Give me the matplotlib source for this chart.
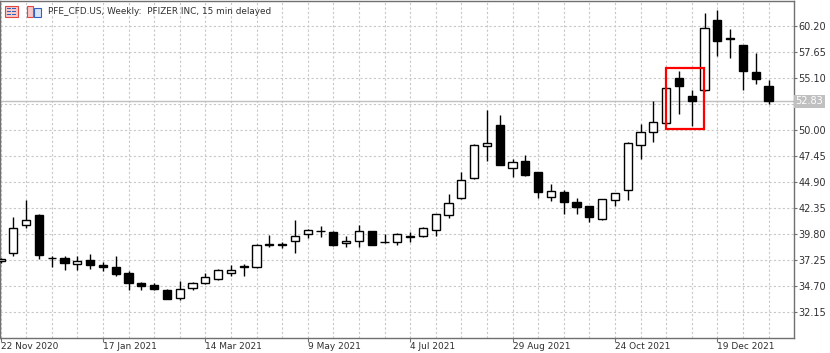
import matplotlib
matplotlib.use("Agg")
import matplotlib.pyplot as plt
from matplotlib.patches import Rectangle
from matplotlib.ticker import FixedLocator, MultipleLocator
import pandas as pd

# weekly PFE candles, starting 22 Nov 2020
week_start = "2020-11-22"
opens = [37.07, 37.92, 40.68, 41.66, 37.42, 37.43, 36.84, 37.23, 36.77, 36.54,
         35.95, 34.97, 34.77, 34.28, 33.49, 34.47, 34.97, 35.36, 35.92, 36.55,
         36.51, 38.72, 38.72, 39.04, 39.79, 40.03, 40.01, 38.86, 39.09, 40.05,
         38.95, 38.96, 39.51, 39.62, 40.18, 41.59, 43.33, 45.26, 48.38, 50.49,
         46.29, 46.95, 45.83, 43.40, 43.93, 42.91, 42.48, 41.27, 43.07, 44.13,
         48.56, 49.80, 50.68, 55.05, 53.37, 53.90, 60.79, 58.89, 58.33, 55.64,
         54.33]
highs = [37.40, 41.43, 43.07, 41.70, 37.56, 37.56, 37.56, 37.79, 37.00, 37.62,
         36.18, 35.10, 34.93, 34.32, 35.12, 35.10, 35.95, 36.30, 36.74, 36.84,
         38.77, 39.69, 38.97, 41.10, 40.28, 40.54, 40.05, 39.55, 40.70, 40.11,
         39.72, 39.85, 39.95, 40.44, 41.75, 43.72, 45.82, 48.58, 51.93, 51.44,
         47.18, 47.57, 45.85, 44.72, 44.06, 43.34, 42.50, 43.24, 43.83, 48.82,
         50.59, 52.85, 54.10, 55.77, 53.90, 61.45, 61.78, 59.87, 58.35, 57.51,
         54.88]
lows = [36.95, 37.59, 40.38, 37.33, 36.57, 36.28, 36.28, 36.34, 36.11, 35.62,
        34.28, 34.28, 34.31, 33.35, 33.29, 34.28, 34.90, 35.26, 35.69, 35.69,
        36.41, 38.53, 38.43, 37.92, 39.36, 39.46, 38.57, 38.47, 38.47, 38.70,
        38.93, 38.73, 38.99, 39.45, 39.62, 41.36, 43.23, 45.20, 46.95, 46.52,
        45.37, 45.50, 43.34, 42.98, 41.70, 41.70, 40.91, 41.17, 42.52, 43.07,
        47.11, 48.81, 50.60, 51.54, 50.39, 53.85, 57.25, 57.08, 53.96, 54.52,
        52.52]
closes = [37.33, 40.38, 41.10, 37.66, 37.38, 36.90, 37.13, 36.74, 36.57, 35.85,
          34.93, 34.70, 34.37, 33.39, 34.37, 34.93, 35.59, 36.28, 36.28, 36.60,
          38.70, 38.74, 38.74, 39.59, 40.12, 40.05, 38.70, 39.09, 40.11, 38.73,
          38.97, 39.75, 39.53, 40.37, 41.72, 42.80, 45.10, 48.51, 48.74, 46.59,
          46.85, 45.54, 43.90, 43.96, 42.88, 42.39, 41.43, 43.17, 43.80, 48.72,
          49.77, 50.78, 54.07, 54.33, 52.82, 59.97, 58.72, 59.05, 55.77, 54.98,
          52.83]
last_price = 52.83
price_ticks = [32.15, 34.70, 37.25, 39.80, 42.35, 44.90, 47.45, 50.00, 52.55,
               55.10, 57.65, 60.20]
title = "PFE_CFD.US, Weekly:  PFIZER INC, 15 min delayed"

weeks = pd.date_range(week_start, periods=len(opens), freq="7D")
date_ticks = list(range(0, len(weeks), 8))
date_labels = [f"{weeks[i].day} {weeks[i].strftime('%b %Y')}" for i in date_ticks]

W, H = 830, 353
fig = plt.figure(figsize=(W / 100, H / 100), dpi=100)
ax = fig.add_axes([0, 15 / H, 794 / W, 337 / H])

frame = "#707070"
txt = "#303030"
grid_c = "#c8c8c8"

# candles
x = list(range(len(opens)))
ax.vlines(x, lows, highs, color="black", lw=1, zorder=3)
for i in x:
    o, c = opens[i], closes[i]
    up = c >= o
    ax.bar(i, abs(c - o), bottom=min(o, c), width=0.65,
           facecolor="white" if up else "black", edgecolor="black",
           lw=1, zorder=4)

# current price line
ax.axhline(last_price, color="#c0c0c0", lw=1, zorder=2)

# red highlight box around the two December dips
ax.add_patch(Rectangle((52.0, 50.05), 2.95, 6.03, fill=False,
                       edgecolor="#ff0000", lw=1.6, zorder=6))

ax.set_xlim(-0.04, 61.99)
ax.set_ylim(29.55, 62.66)

ax.yaxis.tick_right()
ax.set_yticks(price_ticks)
# the 52.55 label sits under the current-price box
ax.set_yticklabels(["" if abs(p - last_price) < 0.5 else f"{p:.2f}"
                    for p in price_ticks])
ax.tick_params(axis="y", direction="out", length=2.5, width=0.8, color=frame,
               labelsize=7, labelcolor=txt, pad=0.5)

ax.xaxis.set_major_locator(FixedLocator(date_ticks))
ax.xaxis.set_minor_locator(MultipleLocator(2))
ax.set_xticklabels(date_labels)
ax.tick_params(axis="x", which="major", direction="out", length=3, width=0.8,
               color=frame, labelsize=6.5, labelcolor=txt, pad=0)
ax.tick_params(axis="x", which="minor", length=0)
for lab in ax.get_xticklabels():
    lab.set_ha("left")

ax.grid(True, axis="y", color=grid_c, ls=(0, (2, 2)), lw=0.8, zorder=0)
ax.grid(True, axis="x", which="both", color=grid_c, ls=(0, (2, 2)), lw=0.8,
        zorder=0)
ax.set_axisbelow(True)

for s in ax.spines.values():
    s.set_color(frame)
    s.set_linewidth(1)

# price label on the axis
ax.annotate(f"{last_price:.2f}", xy=(1, last_price),
            xycoords=("axes fraction", "data"), xytext=(1, 0),
            textcoords="offset points", ha="left", va="center", fontsize=7,
            color="white", zorder=10, annotation_clip=False,
            bbox=dict(boxstyle="square,pad=0.15", fc="#c0c0c0", ec="none"))

# header icons and title
def px(xp, yp):
    return xp / W, 1 - yp / H

fig.add_artist(Rectangle(px(5, 17), 13 / W, 11 / H, transform=fig.transFigure,
                         facecolor="#f6c8c8", edgecolor="#e04848", lw=0.8))
for yy in (9, 12, 15):
    fig.add_artist(Rectangle(px(7, yy), 4 / W, 1 / H, transform=fig.transFigure,
                             facecolor="#3060c0", edgecolor="none"))
    fig.add_artist(Rectangle(px(12, yy), 4 / W, 1 / H, transform=fig.transFigure,
                             facecolor="#3060c0", edgecolor="none"))
fig.add_artist(Rectangle(px(27, 17), 6 / W, 11 / H, transform=fig.transFigure,
                         facecolor="#f6c8c8", edgecolor="#e04848", lw=0.8))
fig.add_artist(Rectangle(px(34, 17), 7 / W, 9 / H, transform=fig.transFigure,
                         facecolor="#d8e4f8", edgecolor="#3060c0", lw=0.8))
fig.text(48 / W, 1 - 11 / H, title, fontsize=6.4, color=txt, va="center",
         ha="left")

fig.savefig("out.png", dpi=100)
